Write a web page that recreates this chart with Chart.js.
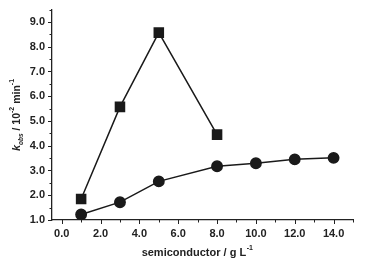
<!DOCTYPE html>
<html>
<head>
<meta charset="utf-8">
<script src="https://cdn.jsdelivr.net/npm/chart.js@4"></script>
<style>
  html, body { margin: 0; padding: 0; background: #fff; }
  #wrap { width: 366px; height: 260px; }
</style>
</head>
<body>
<div id="wrap"><canvas id="chart" width="366" height="260"></canvas></div>
<script>
const loadingX = [1, 3, 5, 8]
const squareValues = [1.85, 5.57, 8.57, 4.45]
const concX = [1, 3, 5, 8, 10, 12, 14]
const circleValues = [1.22, 1.72, 2.56, 3.17, 3.29, 3.45, 3.51]
const xTicks = [0, 2, 4, 6, 8, 10, 12, 14]
const yTicks = [1, 2, 3, 4, 5, 6, 7, 8, 9]

const FONT = '"Liberation Sans", Arial, sans-serif'

// minor + major ticks and the axis titles with sub/superscripts
const axisDecor = {
  id: 'axisDecor',
  afterDraw(chart) {
    const ctx = chart.ctx
    const xs = chart.scales.x
    const ys = chart.scales.y
    const area = chart.chartArea
    ctx.save()
    ctx.strokeStyle = '#222'
    ctx.lineWidth = 1
    for (let v = 0; v <= 15; v += 1) {
      const px = Math.round(xs.getPixelForValue(v)) + 0.5
      const len = v % 2 === 0 ? 4 : 2.5
      ctx.beginPath()
      ctx.moveTo(px, area.bottom)
      ctx.lineTo(px, area.bottom + len)
      ctx.stroke()
    }
    for (let v = 1; v <= 9.5; v += 0.5) {
      const py = Math.round(ys.getPixelForValue(v)) + 0.5
      const len = Number.isInteger(v) ? 4 : 2.5
      ctx.beginPath()
      ctx.moveTo(area.left, py)
      ctx.lineTo(area.left - len, py)
      ctx.stroke()
    }

    ctx.fillStyle = '#222'
    ctx.textBaseline = 'alphabetic'

    // x title
    const big = 'bold 11px ' + FONT
    const small = 'bold 7px ' + FONT
    ctx.font = big
    const xMain = 'semiconductor / g L'
    const wMain = ctx.measureText(xMain).width
    ctx.font = small
    const wSup = ctx.measureText('-1').width
    let x0 = 197 - (wMain + wSup) / 2
    const yBase = 256
    ctx.font = big
    ctx.fillText(xMain, x0, yBase)
    ctx.font = small
    ctx.fillText('-1', x0 + wMain + 0.5, yBase - 6)

    // y title, rotated
    const ybig = 'bold 10.5px ' + FONT
    const parts = [
      { t: 'k', f: 'italic bold 11px ' + FONT, dy: 0 },
      { t: 'obs', f: 'italic bold 6.5px ' + FONT, dy: 3 },
      { t: ' / 10', f: ybig, dy: 0 },
      { t: '-2', f: small, dy: -6 },
      { t: ' min', f: ybig, dy: 0 },
      { t: '-1', f: small, dy: -6 },
    ]
    let total = 0
    parts.forEach((p) => {
      ctx.font = p.f
      p.w = ctx.measureText(p.t).width
      total += p.w
    })
    ctx.translate(20, 115)
    ctx.rotate(-Math.PI / 2)
    let cx = -total / 2
    parts.forEach((p) => {
      ctx.font = p.f
      ctx.fillText(p.t, cx, p.dy)
      cx += p.w
    })
    ctx.restore()
  },
}

const ctx = document.getElementById('chart').getContext('2d')
new Chart(ctx, {
  type: 'scatter',
  data: {
    datasets: [
      {
        label: 'squares',
        data: loadingX.map((x, i) => ({ x, y: squareValues[i] })),
        showLine: true,
        borderColor: '#1a1a1a',
        backgroundColor: '#1a1a1a',
        borderWidth: 1.5,
        pointStyle: 'rect',
        pointRadius: 6.4,
        pointHoverRadius: 6.4,
      },
      {
        label: 'circles',
        data: concX.map((x, i) => ({ x, y: circleValues[i] })),
        showLine: true,
        borderColor: '#1a1a1a',
        backgroundColor: '#1a1a1a',
        borderWidth: 1.5,
        pointStyle: 'circle',
        pointRadius: 5.2,
        pointHoverRadius: 5.2,
      },
    ],
  },
  options: {
    responsive: false,
    animation: false,
    events: [],
    layout: { padding: { left: 0, top: 3, right: 13, bottom: 0 } },
    plugins: {
      legend: { display: false },
      tooltip: { enabled: false },
    },
    scales: {
      x: {
        type: 'linear',
        min: -0.5,
        max: 15,
        afterFit: (scale) => { scale.height = 40 },
        afterBuildTicks: (scale) => { scale.ticks = xTicks.map((v) => ({ value: v })) },
        border: { display: true, color: '#222', width: 1.3 },
        grid: { drawOnChartArea: false, drawTicks: true, tickLength: 4, tickColor: 'rgba(0,0,0,0)' },
        ticks: {
          color: '#222',
          padding: 3,
          maxRotation: 0,
          font: { family: FONT, size: 11, weight: 'bold' },
          callback: (v) => Number(v).toFixed(1),
        },
      },
      y: {
        type: 'linear',
        min: 1,
        max: 9.5,
        afterFit: (scale) => { scale.width = 52 },
        afterBuildTicks: (scale) => { scale.ticks = yTicks.map((v) => ({ value: v })) },
        border: { display: true, color: '#222', width: 1.3 },
        grid: { drawOnChartArea: false, drawTicks: true, tickLength: 4, tickColor: 'rgba(0,0,0,0)' },
        ticks: {
          color: '#222',
          padding: 3,
          font: { family: FONT, size: 11, weight: 'bold' },
          callback: (v) => Number(v).toFixed(1),
        },
      },
    },
  },
  plugins: [axisDecor],
})
</script>
</body>
</html>
